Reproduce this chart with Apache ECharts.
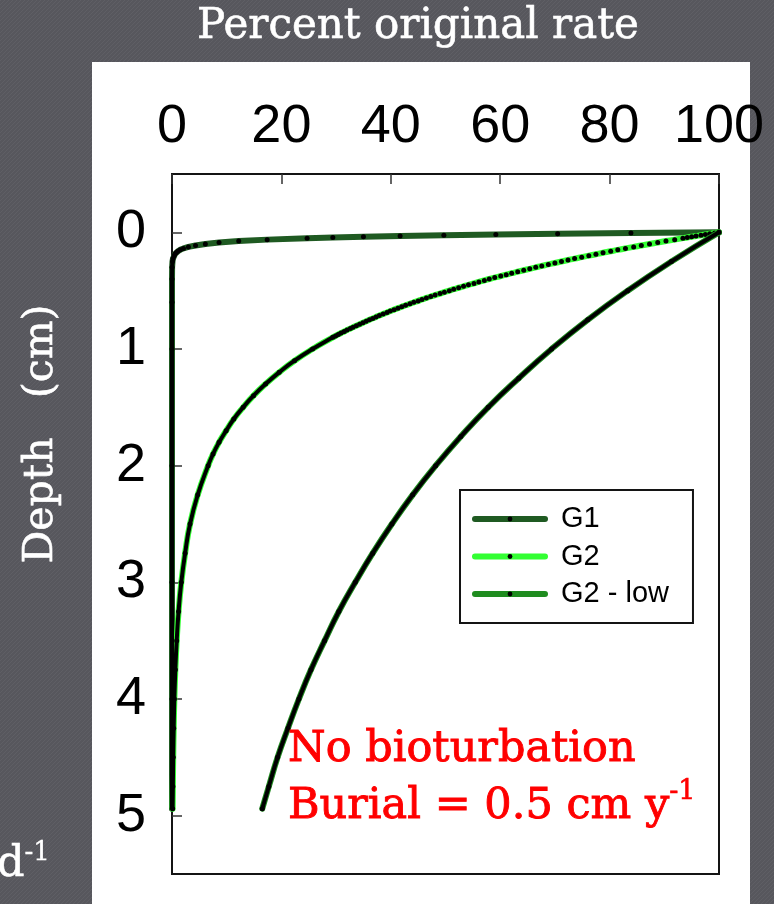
<!DOCTYPE html>
<html>
<head>
<meta charset="utf-8">
<script src="https://cdn.jsdelivr.net/npm/echarts@6/dist/echarts.min.js"></script>
<style>
  html, body { margin: 0; padding: 0; background: #59595f; }
  #chart { width: 774px; height: 904px; }
</style>
</head>
<body>
<div id="chart"></div>
<script>
// Depth below the sediment surface (cm) and remaining rate (% of original)
const g1Depth = [0, 0.00625, 0.0125, 0.01875, 0.025, 0.03125, 0.0375, 0.04375, 0.05,
  0.0625, 0.075, 0.0875, 0.1, 0.1125, 0.125, 0.1375, 0.15, 0.1625, 0.175, 0.1875, 0.2,
  0.225, 0.25, 0.3, 0.4, 0.6, 1, 2, 3, 4, 4.94];
const g1Pct = [100, 83.9, 70.5, 59.2, 49.7, 41.7, 35.0, 29.4, 24.7,
  17.4, 12.2, 8.6, 6.1, 4.3, 3.0, 2.1, 1.5, 1.06, 0.75, 0.52, 0.37,
  0.18, 0.09, 0.02, 0, 0, 0, 0, 0, 0, 0];

const g2Depth = [0, 0.00625, 0.0125, 0.01875, 0.025, 0.03125, 0.0375, 0.04375, 0.05,
  0.0625, 0.075, 0.0875, 0.1, 0.1125, 0.125, 0.1375, 0.15, 0.1625, 0.175, 0.1875, 0.2,
  0.2125, 0.225, 0.2375, 0.25, 0.2625, 0.275, 0.2875, 0.3,
  0.3125, 0.325, 0.3375, 0.35, 0.3625, 0.375, 0.3875, 0.4,
  0.4125, 0.425, 0.4375, 0.45, 0.4625, 0.475, 0.4875, 0.5,
  0.5125, 0.525, 0.5375, 0.55, 0.5625, 0.575, 0.5875, 0.6,
  0.6125, 0.625, 0.6375, 0.65, 0.6625, 0.675, 0.6875, 0.7,
  0.7125, 0.725, 0.7375, 0.75, 0.7625, 0.775, 0.7875, 0.8,
  0.8125, 0.825, 0.8375, 0.85, 0.8625, 0.875, 0.8875, 0.9,
  1.0, 1.1, 1.2, 1.3, 1.4, 1.5, 1.6, 1.7, 1.8, 1.9, 2.0,
  2.25, 2.5, 2.75, 3.0, 3.25, 3.5, 3.75, 4.0, 4.25, 4.5, 4.75, 4.94];
const g2Pct = [100, 99.2, 98.3, 97.5, 96.7, 95.8, 95.0, 94.2, 93.4,
  91.9, 90.3, 88.8, 87.3, 85.8, 84.4, 82.9, 81.5, 80.2, 78.8, 77.5, 76.2,
  74.9, 73.6, 72.4, 71.2, 70.0, 68.8, 67.6, 66.5,
  65.4, 64.3, 63.2, 62.1, 61.1, 60.1, 59.0, 58.0,
  57.1, 56.1, 55.2, 54.2, 53.3, 52.4, 51.5, 50.7,
  49.8, 49.0, 48.1, 47.3, 46.5, 45.7, 45.0, 44.2,
  43.5, 42.7, 42.0, 41.3, 40.6, 39.9, 39.3, 38.6,
  37.9, 37.3, 36.7, 36.1, 35.5, 34.9, 34.3, 33.7,
  33.1, 32.6, 32.0, 31.5, 30.9, 30.4, 29.9, 29.4,
  25.7, 22.4, 19.6, 17.1, 14.9, 13.0, 11.3, 9.9, 8.6, 7.5, 6.6,
  4.7, 3.3, 2.4, 1.7, 1.2, 0.86, 0.61, 0.43, 0.31, 0.22, 0.16, 0.12];

const g2lowDepth = [0, 0.25, 0.5, 0.75, 1.0, 1.25, 1.5, 1.75, 2.0, 2.25, 2.5,
  2.75, 3.0, 3.25, 3.5, 3.75, 4.0, 4.25, 4.5, 4.75, 4.94];
const g2lowPct = [100, 91.3, 83.3, 76.0, 69.4, 63.4, 57.8, 52.8, 48.2, 44.0, 40.2,
  36.7, 33.5, 30.5, 27.9, 25.4, 23.2, 21.2, 19.3, 17.7, 16.5];

const seriesNames = ['G1', 'G2', 'G2 - low'];
const seriesColors = ['#1f5a22', '#33ff33', '#1f8c1f'];
const xTicks = [0, 20, 40, 60, 80, 100];
const yTicks = [0, 1, 2, 3, 4, 5];

const pairs = (pct, depth) => pct.map((p, i) => [p, depth[i]]);
const deeper = (pct, depth, dMin) => pairs(pct, depth).filter(pt => pt[1] >= dMin);

// sampled points sit so close together below these depths that they read as a solid black stroke
const curves = [
  { pct: g1Pct, depth: g1Depth, solidFrom: 0.15, smooth: false },
  { pct: g2Pct, depth: g2Depth, solidFrom: 0.85, smooth: true },
  { pct: g2lowPct, depth: g2lowDepth, solidFrom: 0, smooth: true }
];

const series = [];
curves.forEach((c, i) => {
  series.push({
    name: seriesNames[i],
    type: 'line',
    data: pairs(c.pct, c.depth),
    smooth: c.smooth,
    clip: false,
    symbol: 'circle',
    symbolSize: 5,
    showSymbol: true,
    showAllSymbol: true,
    itemStyle: { color: '#000' },
    lineStyle: { color: seriesColors[i], width: 6, cap: 'round', join: 'round' },
    emphasis: { disabled: true },
    z: 2 + i * 0.1
  });
});
curves.forEach((c, i) => {
  series.push({
    name: seriesNames[i] + ' points',
    type: 'line',
    data: deeper(c.pct, c.depth, c.solidFrom),
    smooth: c.smooth,
    clip: false,
    symbol: 'none',
    lineStyle: { color: '#000', width: 4, cap: 'round', join: 'round' },
    emphasis: { disabled: true },
    silent: true,
    z: 3 + i * 0.1
  });
});

// faint woven texture of the slide background
const tex = document.createElement('canvas');
tex.width = 4; tex.height = 4;
const tctx = tex.getContext('2d');
tctx.fillStyle = '#57575d';
tctx.fillRect(0, 0, 4, 4);
tctx.fillStyle = '#5f5f65';
tctx.fillRect(0, 0, 1, 1); tctx.fillRect(2, 2, 1, 1);
tctx.fillRect(1, 3, 1, 1); tctx.fillRect(3, 1, 1, 1);

const serif = '"DejaVu Serif"';

const chart = echarts.init(document.getElementById('chart'), null, { renderer: 'canvas' });
chart.setOption({
  animation: false,
  backgroundColor: { image: tex, repeat: 'repeat' },
  grid: {
    left: 172, top: 174, width: 547, height: 700,
    show: true, borderColor: '#141414', borderWidth: 2, backgroundColor: 'transparent'
  },
  xAxis: {
    type: 'value', position: 'top', min: xTicks[0], max: xTicks[xTicks.length - 1], interval: 20,
    axisLine: { show: true, onZero: false, lineStyle: { color: '#141414', width: 2 } },
    axisTick: { show: true, inside: true, length: 10, lineStyle: { color: '#333', width: 1.5 } },
    axisLabel: { show: true, margin: 20, fontSize: 54, fontFamily: 'Liberation Sans', color: '#000' },
    splitLine: { show: false }
  },
  yAxis: {
    type: 'value', inverse: true, min: -0.5, max: 5.5,
    axisLine: { show: true, onZero: false, lineStyle: { color: '#141414', width: 2 } },
    axisTick: { show: true, inside: true, length: 10, customValues: yTicks, lineStyle: { color: '#333', width: 1.5 } },
    axisLabel: { show: true, margin: 26, fontSize: 54, fontFamily: 'Liberation Sans', color: '#000', customValues: yTicks },
    splitLine: { show: false }
  },
  legend: {
    data: seriesNames,
    orient: 'vertical',
    left: 460, top: 490,
    itemWidth: 70, itemHeight: 6, itemGap: 7.5,
    padding: [14, 24, 14, 12],
    backgroundColor: '#fff', borderColor: '#141414', borderWidth: 2, borderRadius: 0,
    lineStyle: { width: 6 },
    textStyle: { fontFamily: 'Liberation Sans', fontSize: 29, color: '#000', lineHeight: 30, padding: [0, 0, 0, 11] },
    selectedMode: false
  },
  graphic: [
    { type: 'rect', z: -1, shape: { x: 92, y: 62, width: 658, height: 860 }, style: { fill: '#fff' } },
    { type: 'text', x: 418, y: 27,
      style: { text: 'Percent original rate', fill: '#fff', stroke: '#fff', lineWidth: 0.6,
        font: '42px ' + serif, textAlign: 'center', textVerticalAlign: 'middle' } },
    { type: 'text', x: 41, y: 434, rotation: Math.PI / 2,
      style: { text: 'Depth   (cm)', fill: '#fff', stroke: '#fff', lineWidth: 0.6,
        font: '41px ' + serif, textAlign: 'center', textVerticalAlign: 'middle' } },
    { type: 'text', x: 288, y: 721, z: 10,
      style: {
        text: '{a|No bioturbation}\n{a|Burial = 0.5 cm y}{s|-1}',
        textAlign: 'left', textVerticalAlign: 'top',
        rich: {
          a: { fontSize: 43, fontFamily: serif, fill: '#ff0000', stroke: '#ff0000', lineWidth: 0.9, lineHeight: 57 },
          s: { fontSize: 27, fontFamily: serif, fill: '#ff0000', stroke: '#ff0000', lineWidth: 0.6, lineHeight: 30, verticalAlign: 'top' }
        }
      } },
    { type: 'text', x: -3, y: 840,
      style: {
        text: '{a|d}{s|-1}',
        textAlign: 'left', textVerticalAlign: 'top',
        rich: {
          a: { fontSize: 43, fontFamily: serif, fill: '#fff', stroke: '#fff', lineWidth: 0.6, lineHeight: 50 },
          s: { fontSize: 26, fontFamily: serif, fill: '#fff', stroke: '#fff', lineWidth: 0.4, lineHeight: 30, verticalAlign: 'top' }
        }
      } }
  ],
  series: series
});
</script>
</body>
</html>
